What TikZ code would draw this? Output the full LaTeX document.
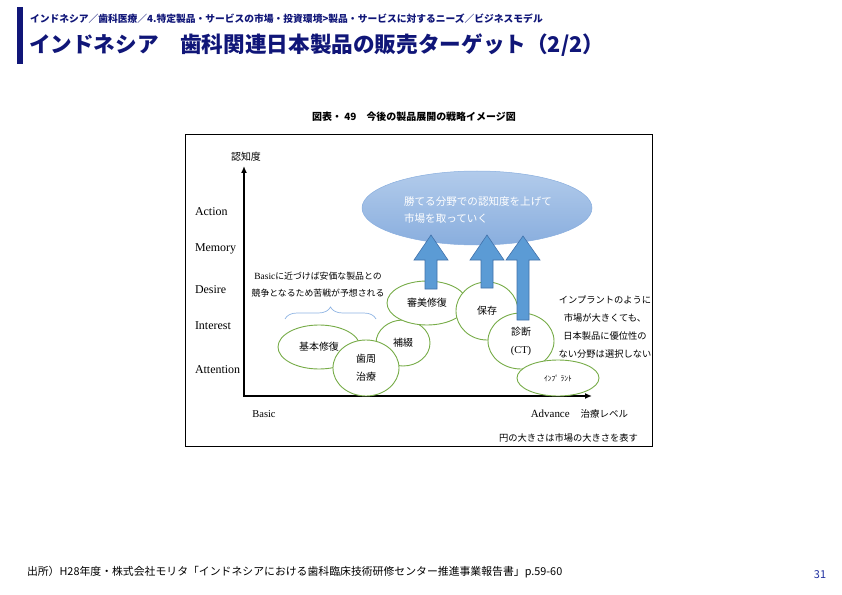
\documentclass[tikz,border=0pt]{standalone}
\usepackage{fontspec}
\setmainfont{Liberation Serif}
\newfontfamily\cjk{Noto Sans CJK JP}
\usetikzlibrary{shapes.geometric,decorations.pathreplacing,arrows.meta}
\definecolor{navy}{RGB}{16,22,120}
\definecolor{pagenum}{RGB}{32,48,160}
\definecolor{leafgreen}{RGB}{119,172,72}
\definecolor{pushblue}{RGB}{91,155,213}
\definecolor{pushedge}{RGB}{65,113,170}
\definecolor{goaltop}{RGB}{178,203,235}
\definecolor{goalbot}{RGB}{137,174,222}
\definecolor{bracecol}{RGB}{141,179,226}
\begin{document}
\begin{tikzpicture}[x=1bp, y=-1bp,
  every node/.style={inner sep=0pt, outer sep=0pt},
  stage/.style={anchor=west, font=\fontsize{12}{12}\selectfont},
  market/.style={draw=leafgreen, line width=0.9bp, fill=white, ellipse,
    align=center, font=\cjk\fontsize{10}{18}\selectfont},
  goal/.style={ellipse, draw=goalbot, line width=0.5bp, top color=goaltop,
    bottom color=goalbot, minimum width=230bp, minimum height=74bp},
  push/.style={fill=pushblue, draw=pushedge, line width=0.6bp},
  axis/.style={line width=1.8bp, {Latex[length=7bp,width=6bp]}-{Latex[length=7bp,width=6bp]}},
  note/.style={align=center, font=\cjk\fontsize{9.3}{18}\selectfont}]
\useasboundingbox (0,0) rectangle (842,595);
%
% ---- Header ----
\fill[navy] (17,7) rectangle (23,64);
\node[anchor=west, text=navy, font=\cjk\bfseries\fontsize{9.8}{10}\selectfont]
  (crumb) at (30,19) {インドネシア／歯科医療／4.特定製品・サービスの市場・投資環境>製品・サービスに対するニーズ／ビジネスモデル};
\node[anchor=west, text=navy, font=\cjk\bfseries\fontsize{21.7}{22}\selectfont]
  (title) at (29,45) {インドネシア　歯科関連日本製品の販売ターゲット（2/2）};
\node[font=\cjk\bfseries\fontsize{10}{10}\selectfont] (caption) at (414,117)
  {図表・ 49　今後の製品展開の戦略イメージ図};
%
% ---- Frame and axes ----
\draw[line width=0.8bp] (185,134) rectangle (652,446);
\coordinate (origin) at (244,396);
\coordinate (ytip) at (244,166);
\coordinate (xtip) at (592,396);
\draw[axis] (ytip) -- (origin) -- (xtip);
\node[font=\cjk\fontsize{10}{10}\selectfont] (depth) at (246,157) {認知度};
\node[stage] (action) at (195,212) {Action};
\node[stage] (memory) at (195,249) {Memory};
\node[stage] (desire) at (195,290) {Desire};
\node[stage] (interest) at (195,326) {Interest};
\node[stage] (attention) at (195,370) {Attention};
\node[font=\fontsize{10.5}{10.5}\selectfont] (basic) at (264,414) {Basic};
\node[anchor=east, font=\fontsize{11}{11}\selectfont] (advance) at (628,414)
  {Advance\quad{\cjk\fontsize{9.5}{10}\selectfont 治療レベル}};
\node[anchor=east, font=\cjk\fontsize{9.3}{10}\selectfont] (legend) at (638,438)
  {円の大きさは市場の大きさを表す};
%
% ---- Goal ----
\node[goal] (goal) at (477,208) {};
\node[align=left, text=white, font=\cjk\fontsize{10.6}{17}\selectfont] (goaltext)
  at (478,210) {勝てる分野での認知度を上げて\\市場を取っていく};
%
% ---- Markets ----
\node[market, minimum width=54bp, minimum height=46bp] (hotetsu) at (403,343) {補綴};
\node[market, minimum width=82bp, minimum height=44bp] (kihon) at (319,347) {基本修復};
\node[market, minimum width=66bp, minimum height=56bp] (shishu) at (366,368) {歯周\\治療};
\node[market, minimum width=80bp, minimum height=44bp] (shinbi) at (427,303) {審美修復};
\node[market, minimum width=62bp, minimum height=58bp] (hozon) at (487,311) {保存};
\node[market, minimum width=66bp, minimum height=56bp] (shindan) at (521,341)
  {診断\\{\fontsize{10.5}{18}\selectfont\rmfamily (CT)}};
\node[market, minimum width=82bp, minimum height=36bp,
  font=\cjk\fontsize{7.5}{8}\selectfont] (implant) at (558,378) {ｲﾝﾌﾟ ﾗﾝﾄ};
%
% ---- Push arrows ----
\draw[push] (425,289) -- (425,260) -- (414,260) -- (431,235) -- (448,260)
  -- (437,260) -- (437,289) -- cycle;
\draw[push] (481,288) -- (481,260) -- (470,260) -- (487,235) -- (504,260)
  -- (493,260) -- (493,288) -- cycle;
\draw[push] (517,320) -- (517,260) -- (506,260) -- (523,236) -- (540,260)
  -- (529,260) -- (529,320) -- cycle;
%
% ---- Notes ----
\node[note, font=\cjk\fontsize{8.9}{17}\selectfont] (cheap) at (318,285)
  {{\rmfamily\fontsize{9.5}{17}\selectfont Basic}に近づけば安価な製品との\\競争となるため苦戦が予想される};
\draw[bracecol, line width=0.7bp, decorate, decoration={brace, amplitude=12bp}]
  (285,319) -- (376,319);
\node[note] (skip) at (605,327)
  {インプラントのように\\市場が大きくても、\\日本製品に優位性の\\ない分野は選択しない};
%
% ---- Footer ----
\node[anchor=west, font=\cjk\fontsize{10.9}{11}\selectfont] (source) at (27,572)
  {出所）H28年度・株式会社モリタ「インドネシアにおける歯科臨床技術研修センター推進事業報告書」p.59-60};
\node[text=pagenum, font=\cjk\fontsize{11}{11}\selectfont] (page) at (820,575) {31};
\end{tikzpicture}
\end{document}
